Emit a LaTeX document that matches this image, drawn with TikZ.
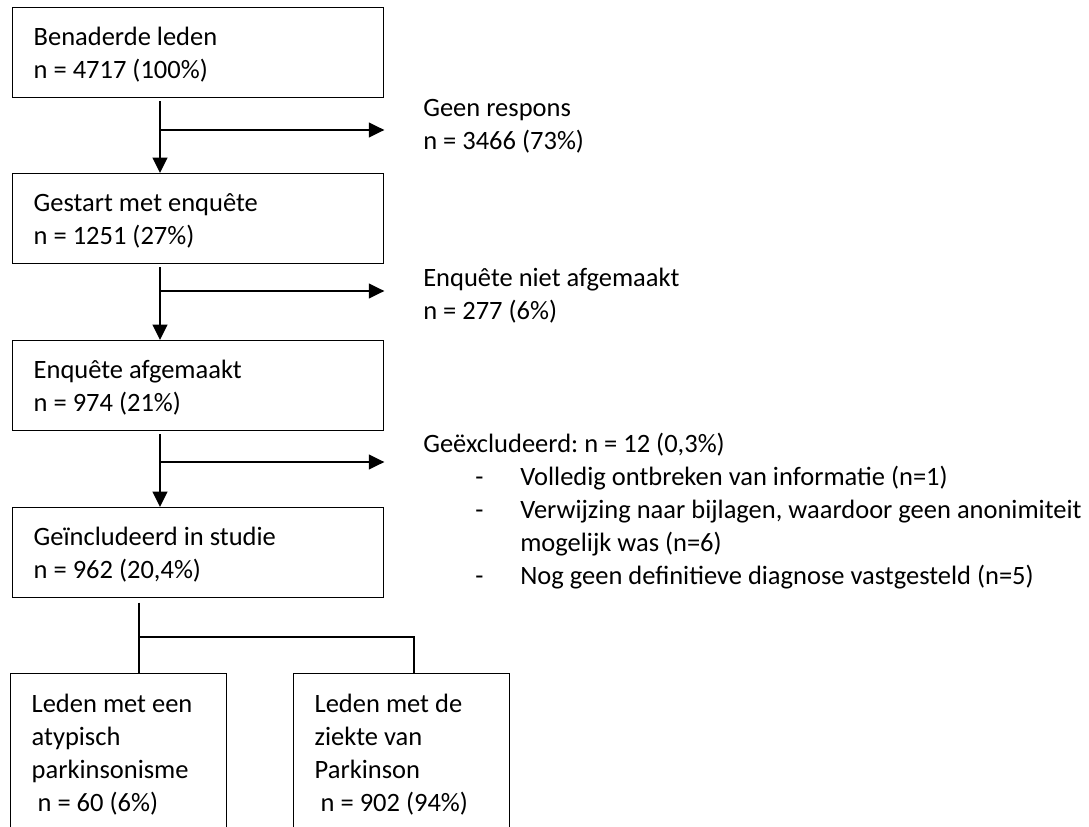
\documentclass[tikz,border=0pt]{standalone}
\usepackage{fontspec}
\setmainfont{Carlito}
\usepackage{tikz}
\usetikzlibrary{arrows.meta,positioning}
\newcommand{\itm}{\makebox[2.425cm][l]{\hspace*{1.3cm}-}}
\frenchspacing

\begin{document}
\begin{tikzpicture}[>={Triangle[length=11pt,width=10.5pt]},
    every node/.style={font=\fontsize{18.85pt}{23.5pt}\selectfont, align=flush left},
    flowbox/.style={draw, line width=0.95pt, anchor=north west, minimum width=9.275cm,
      minimum height=2.25cm, text width=8.225cm, inner xsep=0.525cm,
      text height=13.5pt, text depth=23.5pt},
    leafbox/.style={draw, line width=0.95pt, anchor=north west, minimum width=5.4cm,
      minimum height=4.125cm, text width=4.35cm, inner xsep=0.525cm,
      text height=8.5pt, text depth=70.4pt},
    note/.style={anchor=west, inner sep=0pt},
    arr/.style={->, line width=1.4pt},
    tree/.style={line width=0.95pt}]
    \path[use as bounding box] (0,0) rectangle (27.225,-20.675);
    \clip (0,0) rectangle (27.225,-20.675);

    \node[flowbox] (benaderd) at (0.3,-0.175) {Benaderde leden\\n = 4717 (100\%)};
    \node[flowbox] (gestart) at (0.3,-4.325) {Gestart met enquête\\n = 1251 (27\%)};
    \node[flowbox] (afgemaakt) at (0.3,-8.5) {Enquête afgemaakt\\n = 974 (21\%)};
    \node[flowbox] (included) at (0.3,-12.675) {Geïncludeerd in studie\\n = 962 (20,4\%)};
    \node[leafbox] (atypisch) at (0.25,-16.825)
      {Leden met een\\atypisch\\parkinsonisme\\\ n = 60 (6\%)};
    \node[leafbox] (parkinson) at (7.325,-16.825)
      {Leden met de\\ziekte van\\Parkinson\\\ n = 902 (94\%)};

    \node[note] (geen) at (10.575,-3.16) {Geen respons\\n = 3466 (73\%)};
    \node[note] (niet) at (10.575,-7.38) {Enquête niet afgemaakt\\n = 277 (6\%)};
    \node[note] (excl) at (10.575,-12.77)
      {Geëxcludeerd: n = 12 (0,3\%)\\
       \itm Volledig ontbreken van informatie (n=1)\\
       \itm Verwijzing naar bijlagen, waardoor geen anonimiteit\\
       \hspace*{2.425cm}mogelijk was (n=6)\\
       \itm Nog geen definitieve diagnose vastgesteld (n=5)};

    \coordinate (j1) at (4.0,-3.25);
    \coordinate (j2) at (4.0,-7.275);
    \coordinate (j3) at (4.0,-11.55);
    \draw[arr, shorten <=2pt] (benaderd.south -| j1) -- (gestart.north -| j1);
    \draw[arr] (j1) -- (j1 -| benaderd.east);
    \draw[arr, shorten <=2pt] (gestart.south -| j2) -- (afgemaakt.north -| j2);
    \draw[arr] (j2) -- (j2 -| gestart.east);
    \draw[arr, shorten <=2pt] (afgemaakt.south -| j3) -- (included.north -| j3);
    \draw[arr] (j3) -- (j3 -| afgemaakt.east);

    \coordinate (split) at (3.475,-15.925);
    \coordinate (splitr) at (10.35,-15.925);
    \draw[tree, shorten <=3pt] (included.south -| split) -- (split) -- (atypisch.north -| split);
    \draw[tree] (split) -- (splitr) -- (parkinson.north -| splitr);
\end{tikzpicture}
\end{document}
